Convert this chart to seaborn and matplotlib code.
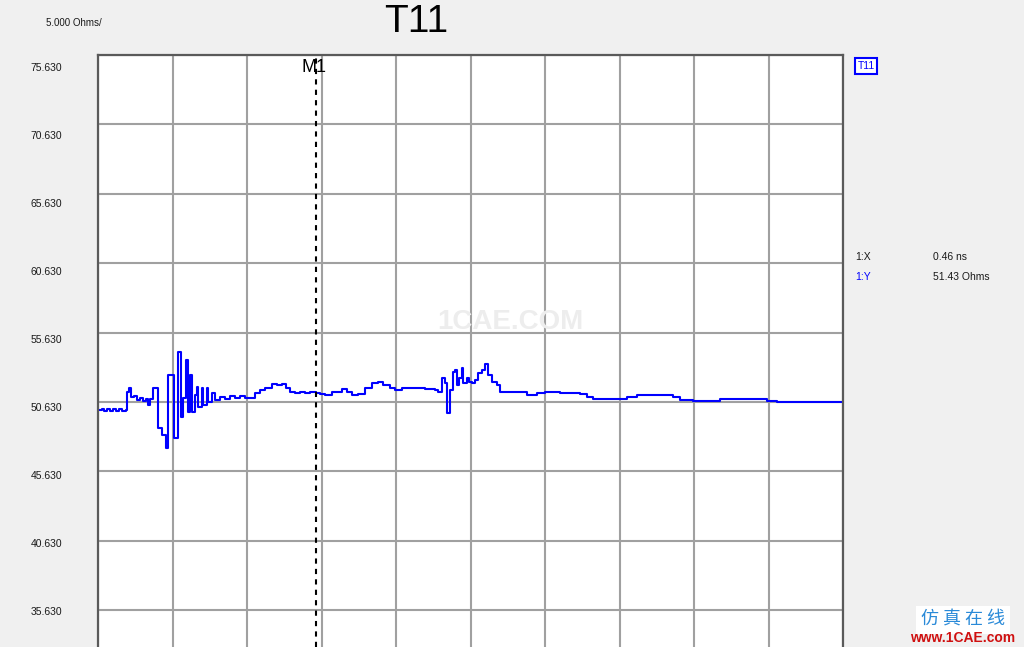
import numpy as np
import pandas as pd
import seaborn as sns
import matplotlib.pyplot as plt

# TDR trace T11
time_ns = [0.000, 0.008, 0.013, 0.019, 0.025, 0.032, 0.038, 0.044, 0.051, 0.059,
           0.061, 0.065, 0.070, 0.076, 0.082, 0.089, 0.095, 0.101, 0.106, 0.110,
           0.116, 0.124, 0.127, 0.135, 0.143, 0.148, 0.152, 0.160, 0.169, 0.175,
           0.179, 0.186, 0.190, 0.194, 0.198, 0.205, 0.209, 0.211, 0.219, 0.222,
           0.230, 0.232, 0.241, 0.247, 0.257, 0.268, 0.279, 0.289, 0.300, 0.310,
           0.321, 0.331, 0.342, 0.352, 0.367, 0.378, 0.388, 0.397, 0.405, 0.416,
           0.426, 0.437, 0.447, 0.460, 0.468, 0.479, 0.494, 0.515, 0.525, 0.536,
           0.549, 0.563, 0.578, 0.591, 0.601, 0.616, 0.627, 0.642, 0.669, 0.690,
           0.711, 0.717, 0.726, 0.732, 0.736, 0.743, 0.749, 0.753, 0.757, 0.762,
           0.768, 0.770, 0.779, 0.783, 0.789, 0.795, 0.802, 0.810, 0.817, 0.823,
           0.831, 0.842, 0.848, 0.859, 0.884, 0.905, 0.926, 0.943, 0.975, 1.017,
           1.032, 1.044, 1.108, 1.116, 1.137, 1.213, 1.228, 1.255, 1.312, 1.382,
           1.412, 1.433, 1.523, 1.572]
impedance = [50.05, 50.12, 49.97, 50.12, 49.97, 50.12, 49.97, 50.12, 49.97, 50.05,
             51.34, 51.63, 50.98, 51.06, 50.77, 50.91, 50.69, 50.84, 50.41, 50.84,
             51.63, 51.63, 48.75, 48.24, 47.31, 52.57, 52.57, 48.03, 54.23, 49.54,
             50.91, 53.65, 49.90, 52.57, 49.90, 51.13, 51.70, 50.26, 51.63, 50.41,
             51.63, 50.62, 51.27, 50.77, 50.98, 50.84, 51.06, 50.91, 51.06, 50.91,
             50.91, 51.27, 51.49, 51.63, 51.92, 51.85, 51.92, 51.63, 51.34, 51.27,
             51.34, 51.27, 51.34, 51.27, 51.20, 51.13, 51.34, 51.56, 51.34, 51.13,
             51.20, 51.63, 51.99, 52.06, 51.85, 51.63, 51.49, 51.63, 51.63, 51.56,
             51.49, 51.34, 52.35, 51.99, 49.83, 51.49, 52.78, 52.93, 51.85, 52.35,
             53.07, 51.99, 52.35, 52.06, 51.99, 52.21, 52.71, 52.93, 53.36, 52.57,
             52.06, 51.85, 51.34, 51.34, 51.34, 51.13, 51.27, 51.34, 51.27, 51.20,
             50.98, 50.84, 50.84, 50.98, 51.13, 50.98, 50.77, 50.69, 50.84, 50.84,
             50.69, 50.62, 50.62, 50.62]

y_ticks = [75.630, 70.630, 65.630, 60.630, 55.630, 50.630, 45.630, 40.630, 35.630]
y_labels = ["75.630", "70.630", "65.630", "60.630", "55.630", "50.630", "45.630", "40.630", "35.630"]
ns_per_div = 0.1572
marker_x = 0.46
marker_y = 51.43

df = pd.DataFrame({"t": time_ns, "z": impedance})

sns.set_style("white")
plt.rcParams["font.family"] = ["Liberation Sans", "DejaVu Sans"]

fig = plt.figure(figsize=(10.24, 6.47), dpi=100, facecolor="#f0f0f0")
ax = fig.add_axes([98 / 1024, 0, 745 / 1024, 1 - 55 / 647])
ax.set_facecolor("white")

sns.lineplot(data=df, x="t", y="z", ax=ax, color="#0000ff", linewidth=1.5,
             drawstyle="steps-post", estimator=None, sort=False)

ax.set_xlim(0, 10 * ns_per_div)
ax.set_ylim(75.63 - 592 / 13.875, 75.63)
ax.set_xticks(np.arange(11) * ns_per_div)
ax.set_yticks(y_ticks)
ax.grid(True, color="#a0a0a0", linewidth=1.5)
ax.tick_params(length=0, labelleft=False, labelbottom=False)
ax.set_xlabel("")
ax.set_ylabel("")
for s in ["left", "top", "right"]:
    ax.spines[s].set_color("#5a5a5a")
    ax.spines[s].set_linewidth(1.6)
ax.spines["bottom"].set_visible(False)

# labels sit a bit below their grid lines, drifting up toward the bottom
for i, (v, lab) in enumerate(zip(y_ticks, y_labels)):
    ax.annotate(lab, xy=(0, v), xycoords=("axes fraction", "data"),
                xytext=(-36, -(13 - 1.4 * i)), textcoords="offset pixels",
                ha="right", va="center", fontsize=7.5, color="#1a1a1a",
                annotation_clip=False)

# marker M1
ax.axvline(marker_x, color="black", linewidth=1.5, linestyle=(0, (2.5, 2.5)))
ax.text(marker_x - 0.004, 75.63 - 13 / 13.875, "M1", ha="center", va="center",
        fontsize=13, color="black")

# header texts
fig.text(46 / 1024, 1 - 23 / 647, "5.000 Ohms/", fontsize=7, va="center", color="#1a1a1a")
fig.text(416 / 1024, 1 - 22 / 647, "T11", fontsize=28, ha="center", va="center", color="black")

# trace legend box
fig.text(866 / 1024, 1 - 66 / 647, "T11", fontsize=7.5, ha="center", va="center", color="#0000ff",
         bbox=dict(boxstyle="square,pad=0.25", facecolor="white", edgecolor="#0000ff", linewidth=1.5))

# marker readout
fig.text(855 / 1024, 1 - 257 / 647, "1:X", fontsize=7.5, va="center", color="#1a1a1a")
fig.text(933 / 1024, 1 - 257 / 647, f"{marker_x:.2f} ns", fontsize=7.5, va="center", color="#1a1a1a")
fig.text(855 / 1024, 1 - 277 / 647, "1:Y", fontsize=7.5, va="center", color="#0000ff")
fig.text(933 / 1024, 1 - 277 / 647, f"{marker_y:.2f} Ohms", fontsize=7.5, va="center", color="#1a1a1a")

# watermarks
fig.text(510 / 1024, 1 - 322 / 647, "1CAE.COM", fontsize=20, ha="center", va="center",
         color="#ededed", fontweight="bold")
fig.text(963 / 1024, 1 - 620 / 647, "仿 真 在 线", fontsize=13, ha="center", va="center",
         color="#2a8ad8", family=["Noto Sans CJK SC", "DejaVu Sans"],
         bbox=dict(boxstyle="square,pad=0.3", facecolor="white", edgecolor="none"))
fig.text(963 / 1024, 1 - 638 / 647, "www.1CAE.com", fontsize=10, ha="center", va="center",
         color="#d01010", fontweight="bold")

plt.savefig("out.png", dpi=100, facecolor=fig.get_facecolor())
plt.close()
